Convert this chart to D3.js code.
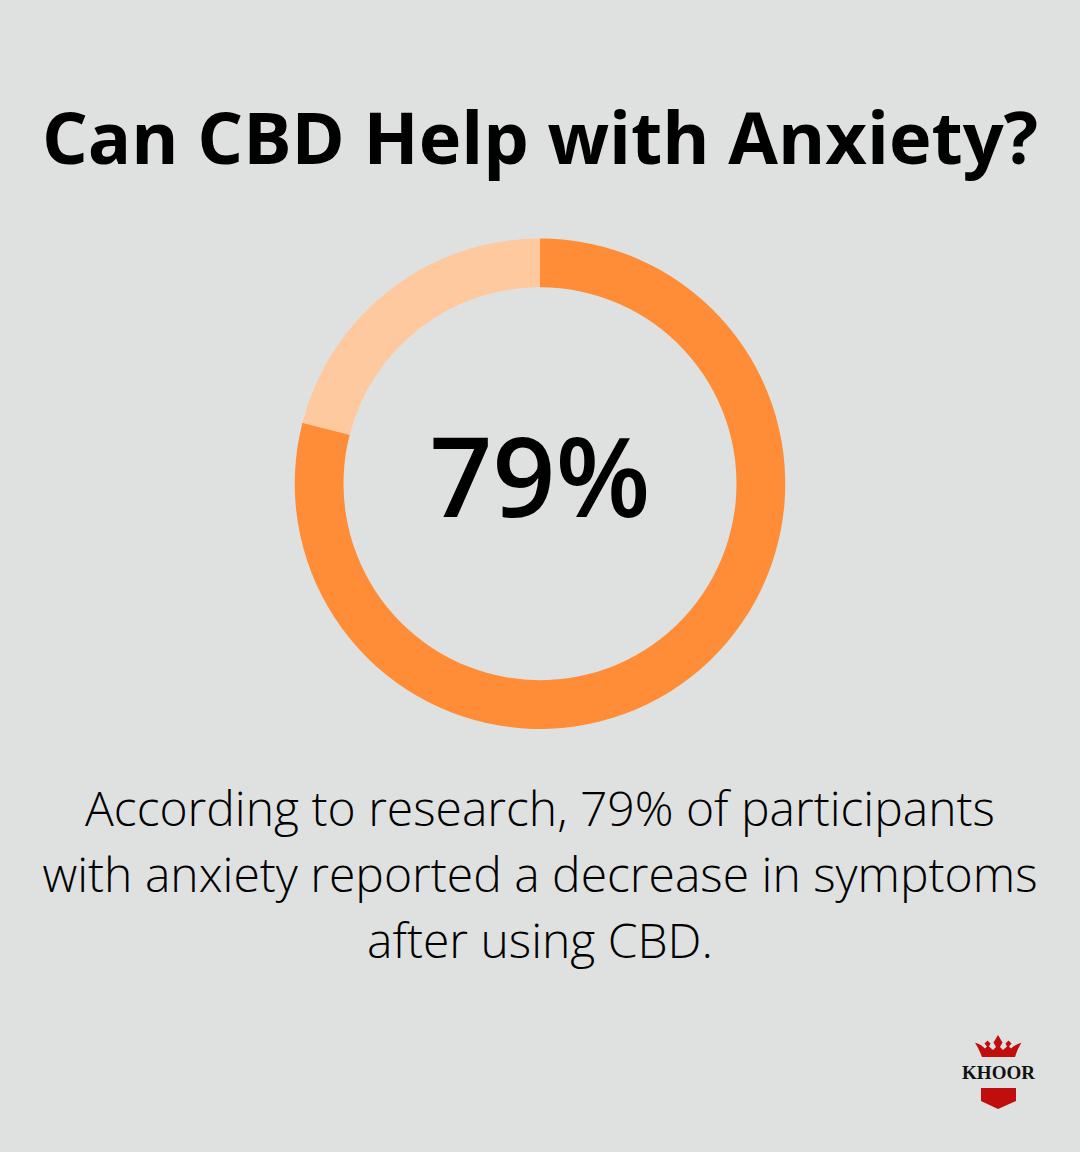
<!DOCTYPE html>
<html><head><meta charset="utf-8">
<script src="https://cdn.jsdelivr.net/npm/d3@7"></script>
<style>html,body{margin:0;padding:0;background:#dfe1e0}svg{display:block}text{font-family:"Open Sans",sans-serif}</style>
</head><body><div id="c"></div>
<script>
const categories=["Reported decrease","Other"];
const values=[79,21];
const colors=["#ff8c36","#ffc9a0"];
const titleText="Can CBD Help with Anxiety?";
const centerLabel="79%";
const bodyLines=["According to research, 79% of participants","with anxiety reported a decrease in symptoms","after using CBD."];
const logoText="KHOOR";
const W=1080,H=1152;
const svg=d3.select("#c").append("svg").attr("width",W).attr("height",H);
svg.append("rect").attr("width",W).attr("height",H).attr("fill","#dfe1e0");
svg.append("text").attr("x",540).attr("y",164).attr("text-anchor","middle").attr("font-size",72).attr("font-weight",700).attr("fill","#000").text(titleText);
const pie=d3.pie().sort(null).value(d=>d)(values);
const arc=d3.arc().innerRadius(196.5).outerRadius(245.25);
svg.append("g").attr("transform","translate(540,483.7)").selectAll("path").data(pie).join("path").attr("d",arc).attr("fill",(d,i)=>colors[i]);
svg.append("text").attr("x",540).attr("y",517).attr("text-anchor","middle").attr("font-size",110).attr("font-weight",600).attr("fill","#000").text(centerLabel);
svg.append("g").selectAll("text").data(bodyLines).join("text").attr("x",540).attr("y",(d,i)=>826+i*66).attr("text-anchor","middle").attr("font-size",48).attr("font-weight",300).attr("fill","#000").text(d=>d);
const logo=svg.append("g");
logo.append("path").attr("fill","#c00d0d").attr("d","M975,1042.8 C979.5,1044 982.5,1046 985,1048.5 L987,1046.5 L984.5,1043.5 L987.5,1040.5 L990.5,1043.5 L989,1046.5 L993,1050 L996,1047 L993.5,1042.5 L998,1035 L1002.5,1042.5 L1000,1047 L1003,1050 L1007,1046.5 L1005.5,1043.5 L1008.5,1040.5 L1011.5,1043.5 L1009,1046.5 L1011,1048.5 C1013.5,1046 1016.5,1044 1021.5,1042.8 C1018.5,1047.5 1016.5,1052 1015,1057 L982,1057 C980,1052 978,1047.5 975,1042.8 Z");
logo.append("text").attr("x",998.5).attr("y",1079).attr("text-anchor","middle").attr("font-size",19).attr("font-weight",700).attr("fill","#111").style("font-family","'Liberation Serif',serif").text(logoText);
logo.append("path").attr("fill","#c00d0d").attr("d","M981,1088 L1016,1088 L1016,1101 L998,1109 L981,1101 Z");
</script></body></html>
